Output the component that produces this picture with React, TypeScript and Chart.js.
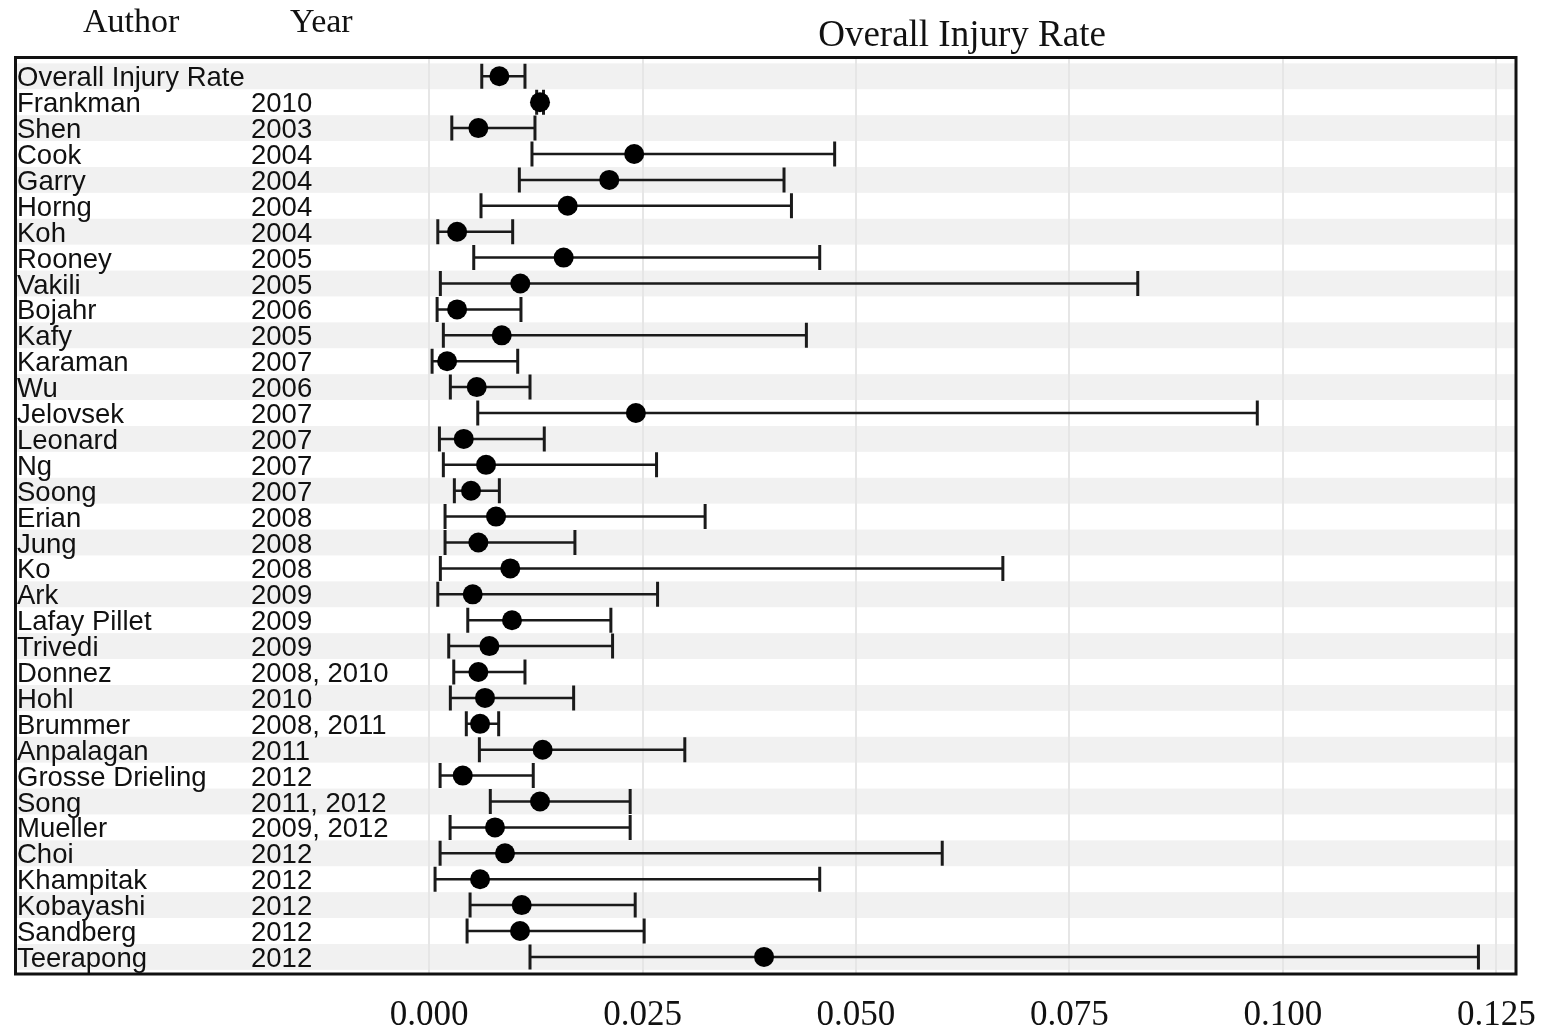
import React, { useEffect, useRef } from "react";
import { Chart, registerables } from "chart.js";

Chart.register(...registerables);

const AUTHORS = [
  "Overall Injury Rate", "Frankman", "Shen", "Cook", "Garry", "Horng", "Koh", "Rooney",
  "Vakili", "Bojahr", "Kafy", "Karaman", "Wu", "Jelovsek", "Leonard", "Ng", "Soong",
  "Erian", "Jung", "Ko", "Ark", "Lafay Pillet", "Trivedi", "Donnez", "Hohl", "Brummer",
  "Anpalagan", "Grosse Drieling", "Song", "Mueller", "Choi", "Khampitak", "Kobayashi",
  "Sandberg", "Teerapong",
];

const YEARS = [
  "", "2010", "2003", "2004", "2004", "2004", "2004", "2005",
  "2005", "2006", "2005", "2007", "2006", "2007", "2007", "2007", "2007",
  "2008", "2008", "2008", "2009", "2009", "2009", "2008, 2010", "2010", "2008, 2011",
  "2011", "2012", "2011, 2012", "2009, 2012", "2012", "2012", "2012",
  "2012", "2012",
];

const RATE = [
  0.00823, 0.01299, 0.00577, 0.02402, 0.0211, 0.01623, 0.00328, 0.01576,
  0.01068, 0.00328, 0.00851, 0.00211, 0.00558, 0.02422, 0.00406, 0.00667, 0.00491,
  0.00784, 0.00577, 0.00951, 0.00511, 0.00971, 0.00706, 0.00577, 0.00655, 0.00597,
  0.0133, 0.00394, 0.01299, 0.00772, 0.00889, 0.00597, 0.01085,
  0.01065, 0.03923,
];

const LOWER = [
  0.00617, 0.0126, 0.00266, 0.01205, 0.01057, 0.00608, 0.00102, 0.00523,
  0.00132, 0.00094, 0.00167, 0.00035, 0.00249, 0.0057, 0.00121, 0.00167, 0.00296,
  0.00187, 0.00187, 0.00132, 0.00102, 0.00453, 0.0023, 0.00289, 0.00249, 0.00436,
  0.00589, 0.00129, 0.00717, 0.00246, 0.00129, 0.0007, 0.0048,
  0.00445, 0.01182,
];

const UPPER = [
  0.01123, 0.0134, 0.0124, 0.0475, 0.04157, 0.04244, 0.00979, 0.04575,
  0.083, 0.01076, 0.04419, 0.01038, 0.01182, 0.097, 0.01349, 0.02664, 0.00823,
  0.03233, 0.01708, 0.0672, 0.02676, 0.02129, 0.02149, 0.01123, 0.01693, 0.00815,
  0.02995, 0.0122, 0.02355, 0.02355, 0.0601, 0.04575, 0.02414,
  0.02519, 0.1229,
];

const TICK_VALUES = [0, 0.025, 0.05, 0.075, 0.1, 0.125];

const TITLE = "Overall Injury Rate";
const HEAD_AUTHOR = "Author";
const HEAD_YEAR = "Year";

const SERIF = "'Liberation Serif', 'Times New Roman', serif";
const SANS = "'Liberation Sans', Arial, sans-serif";

const stripesPlugin = {
  id: "stripes",
  beforeDraw(chart: any) {
    const { ctx, chartArea } = chart;
    const y = chart.scales.y;
    ctx.save();
    ctx.fillStyle = "#ffffff";
    ctx.fillRect(0, 0, chart.width, chart.height);
    ctx.fillStyle = "#f1f1f1";
    for (let i = 0; i < AUTHORS.length; i += 2) {
      const t = y.getPixelForValue(i - 0.5);
      const b = y.getPixelForValue(i + 0.5);
      ctx.fillRect(chartArea.left, t, chartArea.right - chartArea.left, b - t);
    }
    ctx.restore();
  },
};

const labelsPlugin = {
  id: "rowLabels",
  afterDatasetsDraw(chart: any) {
    const { ctx, chartArea } = chart;
    const y = chart.scales.y;
    ctx.save();
    ctx.fillStyle = "#111111";
    ctx.textAlign = "left";
    ctx.textBaseline = "alphabetic";
    ctx.font = `27.5px ${SANS}`;
    for (let i = 0; i < AUTHORS.length; i++) {
      const py = y.getPixelForValue(i) + 10;
      ctx.fillText(AUTHORS[i], 17, py);
      if (YEARS[i]) ctx.fillText(YEARS[i], 251, py);
    }
    // headers
    ctx.font = `34px ${SERIF}`;
    ctx.fillText(HEAD_AUTHOR, 83, 32);
    ctx.fillText(HEAD_YEAR, 290, 32);
    ctx.font = `37px ${SERIF}`;
    ctx.textAlign = "center";
    ctx.fillText(TITLE, 962, 46);
    // frame
    ctx.strokeStyle = "#111111";
    ctx.lineWidth = 3;
    ctx.strokeRect(chartArea.left, chartArea.top, chartArea.right - chartArea.left, chartArea.bottom - chartArea.top);
    ctx.restore();
  },
};

export default function App() {
  const ref = useRef<HTMLCanvasElement | null>(null);

  useEffect(() => {
    if (!ref.current) return;
    const whiskers: any[] = [];
    for (let i = 0; i < AUTHORS.length; i++) {
      whiskers.push({ x: LOWER[i], y: i });
      whiskers.push({ x: UPPER[i], y: i });
      whiskers.push({ x: null, y: null });
    }
    const dots = RATE.map((v, i) => ({ x: v, y: i }));

    const chart = new Chart(ref.current, {
      type: "scatter",
      data: {
        datasets: [
          {
            label: "rate",
            data: dots,
            order: 0,
            pointRadius: 10,
            pointHoverRadius: 10,
            pointBackgroundColor: "#000000",
            pointBorderWidth: 0,
            showLine: false,
          },
          {
            label: "ci",
            data: whiskers,
            order: 1,
            showLine: true,
            spanGaps: false,
            borderColor: "#1a1a1a",
            borderWidth: 2.5,
            pointStyle: "line",
            rotation: 90,
            pointRadius: 12.5,
            pointHoverRadius: 12.5,
            pointBorderColor: "#1a1a1a",
            pointBorderWidth: 3,
          },
        ],
      },
      options: {
        responsive: false,
        animation: false,
        events: [],
        layout: { padding: { left: 14, right: 32, top: 57.5, bottom: 0 } },
        plugins: {
          legend: { display: false },
          tooltip: { enabled: false },
          title: { display: false },
        },
        scales: {
          x: {
            type: "linear",
            min: -0.04844,
            max: 0.1273,
            afterBuildTicks: (scale: any) => {
              scale.ticks = TICK_VALUES.map((v) => ({ value: v }));
            },
            afterFit: (scale: any) => {
              scale.height = 54;
              scale.paddingLeft = 0;
              scale.paddingRight = 0;
            },
            grid: { color: "#e6e6e6", lineWidth: 2, drawTicks: false },
            border: { display: false },
            ticks: {
              padding: 21,
              color: "#111111",
              font: { family: SERIF, size: 35, lineHeight: 1.2 },
              maxRotation: 0,
              autoSkip: false,
              callback: (v: any) => Number(v).toFixed(3),
            },
          },
          y: {
            type: "linear",
            display: false,
            reverse: true,
            min: -0.726,
            max: 34.66,
          },
        },
      },
      plugins: [stripesPlugin, labelsPlugin],
    });
    return () => chart.destroy();
  }, []);

  return (
    <div style={{ position: "fixed", left: 0, top: 0, width: 1548, height: 1028, background: "#fff" }}>
      <canvas ref={ref} width={1548} height={1028} style={{ display: "block" }} />
    </div>
  );
}
